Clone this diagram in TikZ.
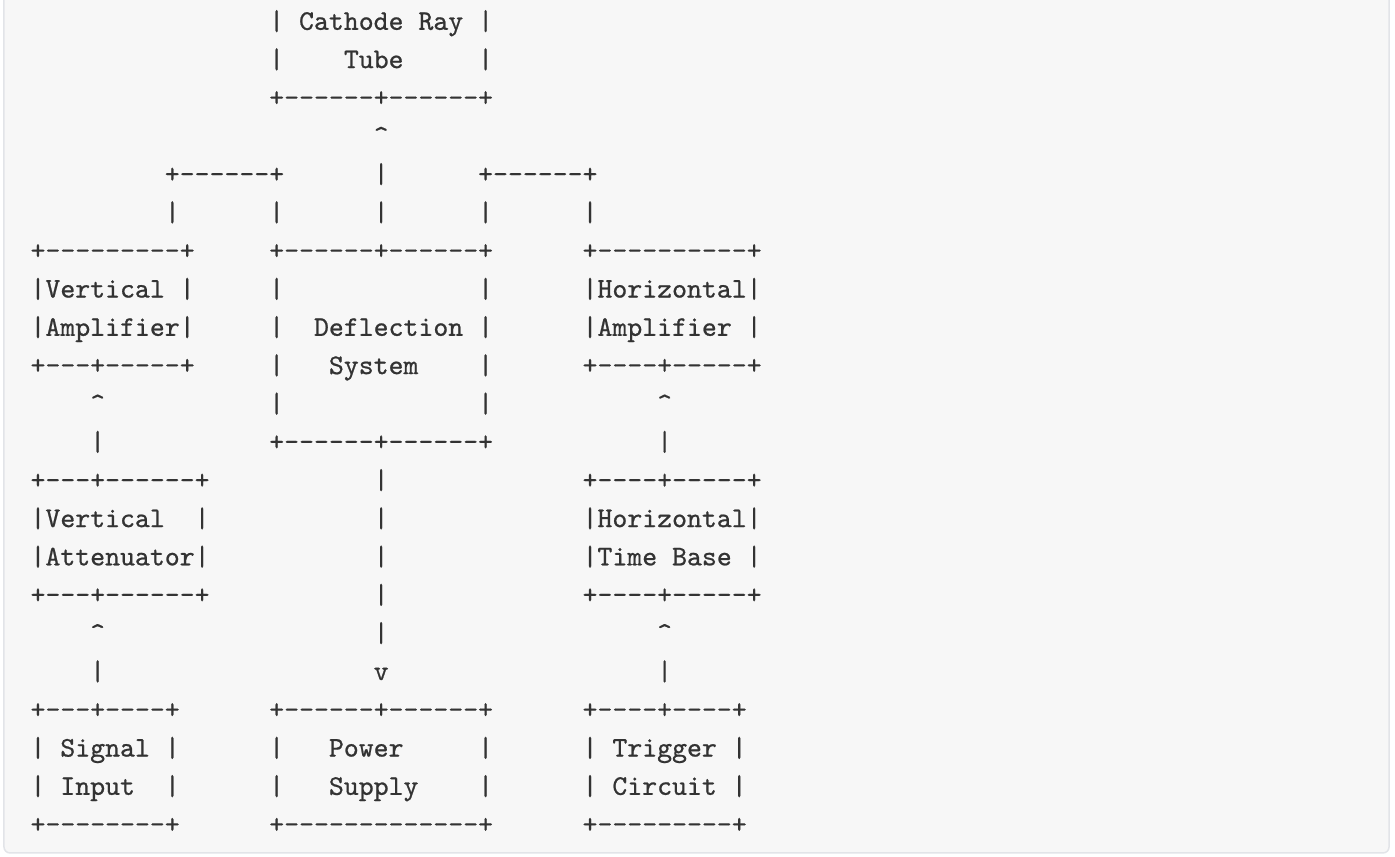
\documentclass[tikz,border=0pt]{standalone}
\usepackage{fontspec}
\setmonofont{lmmono10-regular.otf}[FakeBold=0.7]
\definecolor{codebg}{HTML}{F7F7F7}
\definecolor{codeframe}{HTML}{E2E4E8}
\definecolor{codeink}{HTML}{333333}
\newcommand{\asciifont}{\ttfamily\fontsize{14.21pt}{17pt}\selectfont}
\begin{document}
\begin{tikzpicture}[x=7.46pt,y=-19.125pt,
  ascii/.style={anchor=base west,inner sep=0pt,outer sep=0pt,font=\asciifont,text=codeink}]
\useasboundingbox (0,0) rectangle (93.5,22.405);
\draw[codeframe,fill=codebg,line width=0.75pt,rounded corners=3pt] (0.268,-0.6) rectangle (93.1,22.3);
\begin{scope}[shift={(2.047,0.78)}]
% cathode ray tube
\node[ascii] (crtTop) at (16,0) {| Cathode Ray |};
\node[ascii] (crtL) at (16,1) {|};
\node[ascii] (crtTxt) at (21,1) {Tube};
\node[ascii] (crtR) at (30,1) {|};
\node[ascii] (crtBot) at (16,2) {+------+------+};
\node[ascii] (crtTip) at (23,3) {\textasciicircum};
\node[ascii] (vLink) at (9,4) {+------+};
\node[ascii] (dStem) at (23,4) {|};
\node[ascii] (hLink) at (30,4) {+------+};
\foreach \c in {9,16,23,30,37}
  \node[ascii] (tap\c) at (\c,5) {|};

% amplifiers and deflection system
\node[ascii] (vampTop) at (0,6) {+---------+};
\node[ascii] (deflTop) at (16,6) {+------+------+};
\node[ascii] (hampTop) at (37,6) {+----------+};
\node[ascii] (vampA) at (0,7) {|Vertical |};
\node[ascii] (hampA) at (37,7) {|Horizontal|};
\node[ascii] (vampB) at (0,8) {|Amplifier|};
\node[ascii] (deflA) at (19,8) {Deflection};
\node[ascii] (hampB) at (37,8) {|Amplifier |};
\node[ascii] (vampBot) at (0,9) {+---+-----+};
\node[ascii] (deflB) at (20,9) {System};
\node[ascii] (hampBot) at (37,9) {+----+-----+};
\foreach \r in {7,...,10} {
  \node[ascii] (deflL\r) at (16,\r) {|};
  \node[ascii] (deflR\r) at (30,\r) {|};
}
\node[ascii] (vampTip) at (4,10) {\textasciicircum};
\node[ascii] (hampTip) at (42,10) {\textasciicircum};
\node[ascii] (vampStem) at (4,11) {|};
\node[ascii] (deflBot) at (16,11) {+------+------+};
\node[ascii] (hampStem) at (42,11) {|};

% attenuator and time base
\node[ascii] (attTop) at (0,12) {+---+------+};
\node[ascii] (tbTop) at (37,12) {+----+-----+};
\node[ascii] (attA) at (0,13) {|Vertical};
\node[ascii] (attAR) at (11,13) {|};
\node[ascii] (tbA) at (37,13) {|Horizontal|};
\node[ascii] (attB) at (0,14) {|Attenuator|};
\node[ascii] (tbB) at (37,14) {|Time Base |};
\node[ascii] (attBot) at (0,15) {+---+------+};
\node[ascii] (tbBot) at (37,15) {+----+-----+};
\foreach \r in {12,...,16}
  \node[ascii] (psStem\r) at (23,\r) {|};
\node[ascii] (attTip) at (4,16) {\textasciicircum};
\node[ascii] (tbTip) at (42,16) {\textasciicircum};
\node[ascii] (attStem) at (4,17) {|};
\node[ascii] (psTip) at (23,17) {v};
\node[ascii] (tbStem) at (42,17) {|};

% inputs
\node[ascii] (sigTop) at (0,18) {+---+----+};
\node[ascii] (psTop) at (16,18) {+------+------+};
\node[ascii] (trgTop) at (37,18) {+----+----+};
\node[ascii] (sigA) at (0,19) {| Signal |};
\node[ascii] (psA) at (20,19) {Power};
\node[ascii] (trgA) at (37,19) {| Trigger |};
\node[ascii] (sigB) at (0,20) {| Input};
\node[ascii] (sigBR) at (9,20) {|};
\node[ascii] (psB) at (20,20) {Supply};
\node[ascii] (trgB) at (37,20) {| Circuit |};
\foreach \r in {19,20} {
  \node[ascii] (psL\r) at (16,\r) {|};
  \node[ascii] (psR\r) at (30,\r) {|};
}
\node[ascii] (sigBot) at (0,21) {+--------+};
\node[ascii] (psBot) at (16,21) {+-------------+};
\node[ascii] (trgBot) at (37,21) {+---------+};
\end{scope}
\end{tikzpicture}
\end{document}
